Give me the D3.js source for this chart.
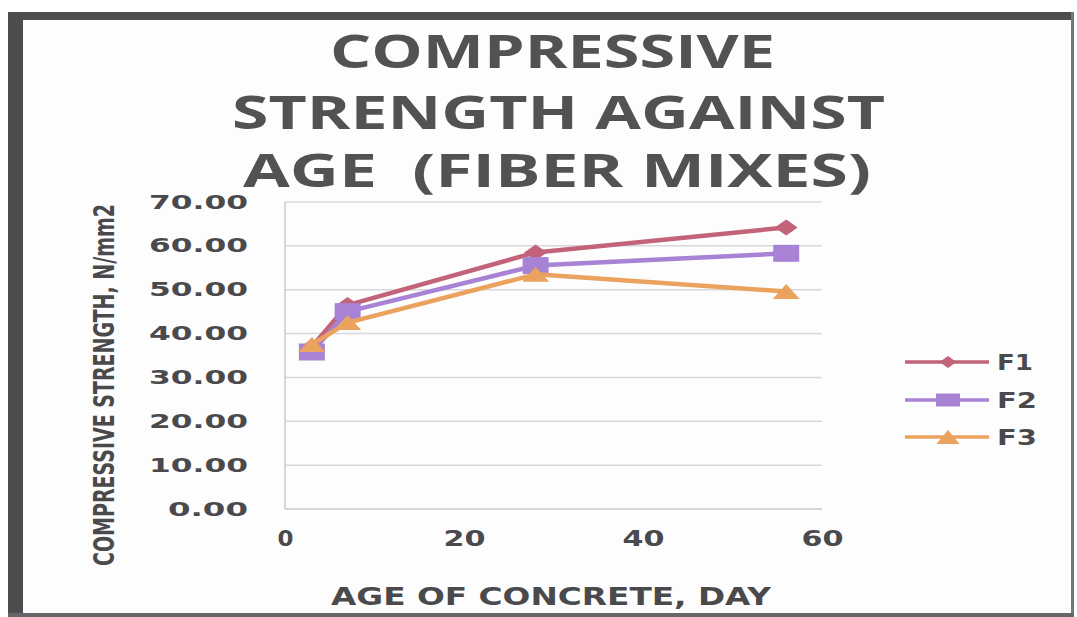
<!DOCTYPE html>
<html>
<head>
<meta charset="utf-8">
<script src="https://cdn.jsdelivr.net/npm/d3@7"></script>
<style>
  html, body { margin: 0; padding: 0; background: #ffffff; }
  svg { display: block; }
  text { white-space: pre; }
</style>
</head>
<body>
<svg id="chart" width="1077" height="617"></svg>
<script>
// Curing ages (days) and compressive strengths (N/mm2) for the fibre mixes
const ages = [3, 7, 28, 56];
const seriesNames = ["F1", "F2", "F3"];
const f1 = [37.0, 46.5, 58.5, 64.2];
const f2 = [35.8, 45.0, 55.5, 58.3];
const f3 = [37.5, 42.5, 53.5, 49.6];
const xTicks = [0, 20, 40, 60];
const yTicks = [0, 10, 20, 30, 40, 50, 60, 70];
const titleLines = ["COMPRESSIVE", "STRENGTH AGAINST", "AGE  (FIBER MIXES)"];
const xLabel = "AGE OF CONCRETE, DAY";
const yLabel = "COMPRESSIVE STRENGTH, N/mm2";

const colors = { F1: "#c2637a", F2: "#a782d5", F3: "#eaa25e" };
const values = { F1: f1, F2: f2, F3: f3 };

// marker outlines (width, height) – the chart is drawn wide, so markers are wider than tall
const markerShape = {
  F1: (w, h) => `M0,${-h / 2}L${w / 2},0L0,${h / 2}L${-w / 2},0Z`,
  F2: (w, h) => `M${-w / 2},${-h / 2}H${w / 2}V${h / 2}H${-w / 2}Z`,
  F3: (w, h) => `M0,${-h / 2}L${w / 2},${h / 2}H${-w / 2}Z`
};
const plotMarker = { F1: [23, 16], F2: [26, 17], F3: [27, 15] };
const legendMarker = { F1: [17, 12], F2: [24, 13], F3: [23, 14] };

const svg = d3.select("#chart");
const ink = "#4a4a4c";

// outer frame
svg.append("rect").attr("x", 8).attr("y", 12).attr("width", 1066).attr("height", 604).attr("fill", "#fdfdfd");
svg.append("rect").attr("x", 8).attr("y", 12).attr("width", 1066).attr("height", 8).attr("fill", "#4d4d50");
svg.append("rect").attr("x", 8).attr("y", 12).attr("width", 15).attr("height", 605).attr("fill", "#4d4d50");
svg.append("rect").attr("x", 1071).attr("y", 12).attr("width", 3).attr("height", 605).attr("fill", "#77777a");
svg.append("rect").attr("x", 8).attr("y", 613).attr("width", 1066).attr("height", 4).attr("fill", "#66666a");

const plot = { left: 285, right: 822, top: 202, bottom: 509 };
const x = d3.scaleLinear().domain([0, 60]).range([plot.left, plot.right]);
const y = d3.scaleLinear().domain([0, 70]).range([plot.bottom, plot.top]);

// title
const titleBase = [68, 129, 187];
const titleSpan = [[330, 775], [232, 885], [243, 871]];
titleLines.forEach((t, i) => {
  svg.append("text")
    .attr("x", titleSpan[i][0]).attr("y", titleBase[i])
    .attr("textLength", titleSpan[i][1] - titleSpan[i][0])
    .attr("lengthAdjust", "spacingAndGlyphs")
    .attr("font-family", "'Open Sans', 'DejaVu Sans', sans-serif")
    .attr("font-weight", 700).attr("font-size", 46)
    .attr("fill", "#525254").text(t);
});

// gridlines
svg.append("g").selectAll("line").data(yTicks.filter(d => d > 0)).join("line")
  .attr("x1", plot.left).attr("x2", plot.right)
  .attr("y1", d => y(d)).attr("y2", d => y(d))
  .attr("stroke", "#d8d8dc").attr("stroke-width", 1.5);

// axes lines
svg.append("line").attr("x1", plot.left).attr("x2", plot.left).attr("y1", plot.top).attr("y2", plot.bottom)
  .attr("stroke", "#c8c8cc").attr("stroke-width", 1.5);
svg.append("line").attr("x1", plot.left).attr("x2", plot.right).attr("y1", plot.bottom).attr("y2", plot.bottom)
  .attr("stroke", "#c8c8cc").attr("stroke-width", 1.5);

// y tick labels
const yAxis = svg.append("g").attr("transform", `translate(${plot.left},0)`)
  .call(d3.axisLeft(y).tickValues(yTicks).tickFormat(d3.format(".2f")).tickSize(0).tickPadding(37));
yAxis.select(".domain").remove();
yAxis.selectAll("text")
  .attr("font-family", "'DejaVu Sans', sans-serif").attr("font-weight", 700)
  .attr("font-size", 19).attr("fill", ink)
  .attr("textLength", d => d === 0 ? 80 : 99).attr("lengthAdjust", "spacingAndGlyphs");

// x tick labels
const xAxis = svg.append("g").attr("transform", `translate(0,${plot.bottom})`)
  .call(d3.axisBottom(x).tickValues(xTicks).tickFormat(d3.format("d")).tickSize(0).tickPadding(22));
xAxis.select(".domain").remove();
xAxis.selectAll("text")
  .attr("font-family", "'DejaVu Sans', sans-serif").attr("font-weight", 700)
  .attr("font-size", 21).attr("fill", ink)
  .attr("textLength", d => d === 0 ? 16 : 42).attr("lengthAdjust", "spacingAndGlyphs");

// axis titles
svg.append("text").attr("x", 331).attr("y", 605)
  .attr("textLength", 440).attr("lengthAdjust", "spacingAndGlyphs")
  .attr("font-family", "'DejaVu Sans', sans-serif").attr("font-weight", 700)
  .attr("font-size", 25).attr("fill", ink).text(xLabel);

svg.append("text")
  .attr("transform", "translate(114,566) rotate(-90)")
  .attr("textLength", 362).attr("lengthAdjust", "spacingAndGlyphs")
  .attr("font-family", "'DejaVu Sans Condensed', 'DejaVu Sans', sans-serif").attr("font-weight", 700)
  .attr("font-size", 29).attr("fill", ink).text(yLabel);

// series lines and markers
const line = d3.line().x((d, i) => x(ages[i])).y(d => y(d));
seriesNames.forEach(name => {
  const g = svg.append("g");
  g.append("path").datum(values[name]).attr("d", line)
    .attr("fill", "none").attr("stroke", colors[name]).attr("stroke-width", 4.5)
    .attr("stroke-linejoin", "round");
  g.selectAll("path.m").data(values[name]).join("path").attr("class", "m")
    .attr("transform", (d, i) => `translate(${x(ages[i])},${y(d)})`)
    .attr("d", markerShape[name](...plotMarker[name]))
    .attr("fill", colors[name]);
});

// legend
const legY = { F1: 362, F2: 400, F3: 437 };
seriesNames.forEach(name => {
  const g = svg.append("g");
  g.append("line").attr("x1", 905).attr("x2", 989).attr("y1", legY[name]).attr("y2", legY[name])
    .attr("stroke", colors[name]).attr("stroke-width", 3.5);
  g.append("path").attr("transform", `translate(948,${legY[name]})`)
    .attr("d", markerShape[name](...legendMarker[name])).attr("fill", colors[name]);
  g.append("text").attr("x", 997).attr("y", legY[name] + 8)
    .attr("textLength", name === "F1" ? 36 : 40).attr("lengthAdjust", "spacingAndGlyphs")
    .attr("font-family", "'DejaVu Sans', sans-serif").attr("font-weight", 700)
    .attr("font-size", 21).attr("fill", ink).text(name);
});
</script>
</body>
</html>
